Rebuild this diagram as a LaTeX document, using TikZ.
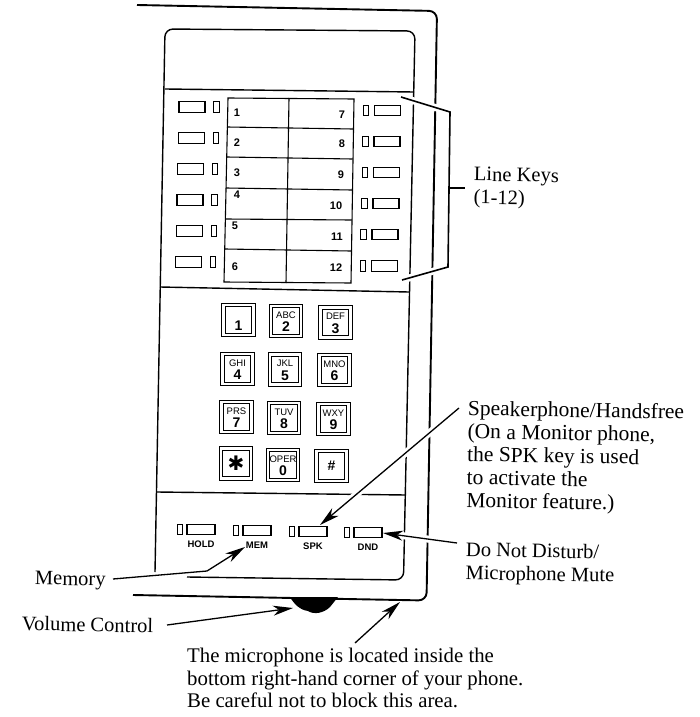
\documentclass[tikz,border=0pt]{standalone}
\usepackage{fontspec}
\setmainfont{Liberation Serif}
\setsansfont{Liberation Sans}
\newfontfamily\starfont{DejaVu Sans}
\usetikzlibrary{arrows.meta, calc}
\tikzset{
  shell/.style     = {line width=1.9pt, rounded corners=8pt},
  bodyline/.style  = {line width=1.4pt},
  gridline/.style  = {line width=1.1pt},
  keycap/.style    = {draw, line width=1.1pt, minimum width=26pt, minimum height=10.5pt,
                      inner sep=0pt, fill=white},
  softkey/.style   = {keycap, minimum width=28pt},
  lamp/.style      = {draw, line width=1.1pt, minimum width=5.5pt, minimum height=10.5pt,
                      inner sep=0pt, fill=white},
  padkey/.style    = {draw, line width=1.1pt, double, double distance=2.6pt,
                      minimum size=30pt, inner sep=0pt},
  padletters/.style = {font=\sffamily\fontsize{9.5}{9.5}\selectfont, inner sep=0pt},
  paddigit/.style  = {font=\sffamily\bfseries\fontsize{14}{14}\selectfont, inner sep=0pt},
  linenum/.style   = {font=\sffamily\bfseries\fontsize{11}{11}\selectfont, inner sep=0pt},
  keyname/.style   = {font=\sffamily\bfseries\fontsize{9.5}{9.5}\selectfont, inner sep=0pt},
  note/.style      = {font=\fontsize{20.5}{23}\selectfont, align=left, inner sep=0pt,
                      anchor=north west, rotate=-1},
  callout/.style   = {line width=1.3pt, -{Stealth[length=20pt, width=10pt, inset=6pt]}},
  halo/.style      = {preaction={draw, white, line width=7pt, -}},
}
\begin{document}
\begin{tikzpicture}[x=1pt, y=-1pt]
    \useasboundingbox (0,0) rectangle (700,717);

    % --- telephone shell and faceplate -------------------------------------
    \draw[shell] (137,5) -- (437,11) -- (426.5,600.5) -- (133,595);
    \draw[bodyline, rounded corners=8pt] (155,572) -- (165,29) -- (415,31)
      -- (403.5,580) -- (187,577);
    \draw[bodyline] (165,89) -- (414,92);
    \draw[bodyline] (160,287) -- (409,292);
    \draw[bodyline] (157,492) -- (406,495);

    % volume wheel
    \fill (290,597) .. controls (294,604) and (300,610) .. (308,611)
      .. controls (314,615) and (324,613) .. (330,607) -- (338,597) -- cycle;

    % --- labels -------------------------------------------------------------
    \node[note] (lineLabel) at (474,167) {Line Keys\\(1-12)};
    \node[note, font=\fontsize{21.5}{23}\selectfont] (speakerLabel) at (468,400)
      {Speakerphone/Handsfree\\(On a Monitor phone,\\the SPK key is used\\to activate the\\Monitor feature.)};
    \node[note] (muteLabel) at (466,542) {Do Not Disturb/\\Microphone Mute};
    \node[note] (memoryLabel) at (35,571) {Memory};
    \node[note] (volumeLabel) at (22,616) {Volume Control};
    \node[note, rotate=1, font=\fontsize{20.8}{22.5}\selectfont] (micLabel) at (187,648)
      {The microphone is located inside the\\bottom right-hand corner of your phone.\\Be careful not to block this area.};

    % --- callouts -----------------------------------------------------------
    \coordinate (lineTop) at (401,97);
    \coordinate (lineBottom) at (402,280);
    \coordinate (lineTick) at (465,188);
    \coordinate (speakerFrom) at (459,408);
    \coordinate (speakerTip) at (320,525);
    \coordinate (muteFrom) at (457,543);
    \coordinate (muteTip) at (383,533);
    \coordinate (memoryFrom) at (113,579);
    \coordinate (memoryTip) at (245,547);
    \coordinate (volumeFrom) at (167,625);
    \coordinate (volumeTip) at (293,608);
    \coordinate (micFrom) at (355,643);
    \coordinate (micTip) at (400,602);

    \draw[line width=1.6pt, halo] (lineTop) -- (450,112) -- (448,267) -- (lineBottom);
    \draw[line width=1.6pt] (449.3,188) -- (lineTick);
    \draw[callout, halo] (speakerFrom) -- (speakerTip);
    \draw[callout, halo] (muteFrom) -- (muteTip);
    \draw[callout] (memoryFrom) -- (207,571) -- (memoryTip);
    \draw[callout] (volumeFrom) -- (volumeTip);
    \draw[callout] (micFrom) -- (micTip);

    % --- line key panel -----------------------------------------------------
    \draw[gridline] (228,98) -- (354,99) -- (351,283) -- (224,282) -- cycle;
    \draw[gridline] (289,98) -- (286,283);
    \foreach \ya/\xa/\yb/\xb in {127/227/129/353, 157/226.5/159/352.5, 188/226/190/352,
                                 219/225.5/220/351.5, 249/225/251/351}
      \draw[gridline] (\xa,\ya) -- (\xb,\yb);

    \foreach \num/\cx/\cy in {1/237/113, 2/237/143, 3/237/173, 4/237/195, 5/235/226, 6/235/267,
                              7/342/115, 8/342/144, 9/341/175, 10/336/206, 11/337/237, 12/336/268}
      \node[linenum] (line\num) at (\cx,\cy) {\num};

    \foreach \row/\cx/\cy in {1/192/107, 2/191.3/138, 3/190.6/169, 4/190/200, 5/189.3/231, 6/188.5/262} {
      \node[keycap] (leftKey\row) at (\cx,\cy) {};
      \node[lamp] (leftLamp\row) at ($(leftKey\row.east)+(11,0)$) {};
    }
    \foreach \row/\cx/\cy in {1/387.5/110.5, 2/387/141.5, 3/386.5/172.5, 4/386/203.5, 5/385/234.5, 6/384.5/266} {
      \node[keycap] (rightKey\row) at (\cx,\cy) {};
      \node[lamp] (rightLamp\row) at ($(rightKey\row.west)+(-8,0)$) {};
    }

    % --- dial pad -----------------------------------------------------------
    \foreach \name/\cx/\cy/\letters/\digit in {
        pad1/238.5/320//1, pad2/286/321/ABC/2, pad3/335.5/322.5/DEF/3,
        pad4/237.5/369/GHI/4, pad5/285/369.5/JKL/5, pad6/334.5/370/MNO/6,
        pad7/236.5/417/PRS/7, pad8/284/418/TUV/8, pad9/333.5/419/WXY/9,
        pad0/283/465/OPER/0} {
      \node[padkey] (\name) at (\cx,\cy) {};
      \node[padletters] (\name L) at ($(\name.center)+(0,-6)$) {\letters};
      \node[paddigit] (\name D) at ($(\name.center)+(0,6)$) {\digit};
    }
    \node[padkey] (padStar) at (236,463.5) {};
    \node[inner sep=0pt, font=\starfont\fontsize{20}{20}\selectfont] (padStarD) at (236,463.5) {✱};
    \node[padkey] (padHash) at (331.5,466) {};
    \node[paddigit] (padHashD) at (padHash.center) {\#};

    % --- feature keys -------------------------------------------------------
    \foreach \name/\cx/\cy/\text in {hold/201/529.5/HOLD, mem/257/530.5/MEM,
                                     spk/313/531.5/SPK, dnd/368/532.5/DND} {
      \node[softkey] (\name) at (\cx,\cy) {};
      \node[lamp] (\name Lamp) at ($(\name.west)+(-6.5,0)$) {};
      \node[keyname] (\name Name) at ($(\name.center)+(0,14.5)$) {\text};
    }
\end{tikzpicture}
\end{document}
